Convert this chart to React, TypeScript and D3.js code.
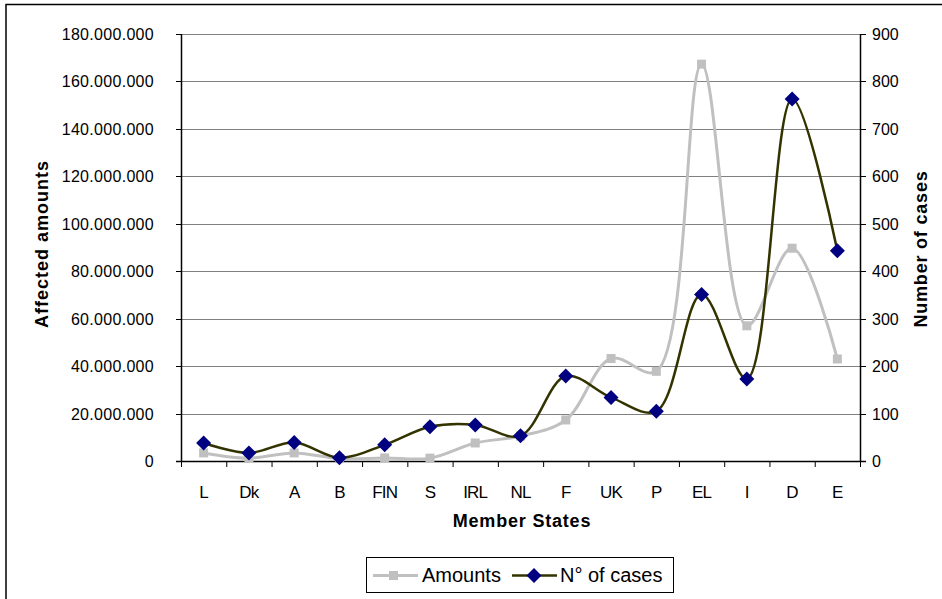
import React from "react";
import * as d3 from "d3";

const categories = ["L", "Dk", "A", "B", "FIN", "S", "IRL", "NL", "F", "UK", "P", "EL", "I", "D", "E"];
const amounts = [3.4e6, 1.2e6, 3.4e6, 1.0e6, 1.3e6, 1.2e6, 7.6e6, 10.5e6, 17.3e6, 43.2e6, 37.8e6, 167.3e6, 57.0e6, 89.7e6, 43.0e6];
const cases = [38, 17, 39, 7, 34, 72, 76, 53, 179, 134, 105, 351, 173, 763, 443];
const leftTicks = [0, 20e6, 40e6, 60e6, 80e6, 100e6, 120e6, 140e6, 160e6, 180e6];
const rightTicks = [0, 100, 200, 300, 400, 500, 600, 700, 800, 900];

const W = 942, H = 599;
const L = 181, R = 860, T = 34, B = 461;
const FONT = "Liberation Sans, Arial, sans-serif";

export default function App() {
  const x = d3.scaleBand<string>().domain(categories).range([L, R]);
  const yL = d3.scaleLinear().domain([0, 180e6]).range([B, T]);
  const yR = d3.scaleLinear().domain([0, 900]).range([B, T]);
  const cx = (c: string) => (x(c) as number) + x.bandwidth() / 2;
  const fmt = (v: number) => (v === 0 ? "0" : d3.format(",")(v).replace(/,/g, "."));

  const lineA = d3.line<number>().x((_, i) => cx(categories[i])).y((d) => yL(d)).curve(d3.curveCatmullRom.alpha(0.5));
  const lineC = d3.line<number>().x((_, i) => cx(categories[i])).y((d) => yR(d)).curve(d3.curveCatmullRom.alpha(0.5));

  const diamond = (px: number, py: number, r: number) =>
    `M${px},${py - r}L${px + r},${py}L${px},${py + r}L${px - r},${py}Z`;

  const boundaries = d3.range(categories.length + 1).map((i) => L + i * x.bandwidth());

  return (
    <svg width={W} height={H} style={{ position: "absolute", left: 0, top: 0 }} fontFamily={FONT}>
      <rect x={0} y={0} width={W} height={H} fill="#fff" />
      <path d={`M6,${H + 2}V4.5H${W + 2}`} fill="none" stroke="#000" strokeWidth={1.5} />
      {/* gridlines */}
      {leftTicks.map((t) => (
        <line key={t} x1={L} x2={R} y1={Math.round(yL(t)) + 0.5} y2={Math.round(yL(t)) + 0.5} stroke="#808080" strokeWidth={1} />
      ))}
      <line x1={L} x2={R} y1={T + 0.5} y2={T + 0.5} stroke="#808080" />
      {/* left axis */}
      <line x1={L + 0.5} x2={L + 0.5} y1={T} y2={B + 1} stroke="#000" strokeWidth={1.5} />
      {leftTicks.map((t) => (
        <g key={t}>
          <line x1={L - 5} x2={L} y1={Math.round(yL(t)) + 0.5} y2={Math.round(yL(t)) + 0.5} stroke="#000" />
          <text x={154} y={yL(t) + 6} textAnchor="end" fontSize={16} letterSpacing={0.3}>{fmt(t)}</text>
        </g>
      ))}
      {/* right axis */}
      <line x1={R + 0.5} x2={R + 0.5} y1={T} y2={B + 1} stroke="#000" strokeWidth={1.5} />
      {rightTicks.map((t) => (
        <g key={t}>
          <line x1={R} x2={R + 6} y1={Math.round(yR(t)) + 0.5} y2={Math.round(yR(t)) + 0.5} stroke="#000" />
          <text x={872} y={yR(t) + 6} textAnchor="start" fontSize={16}>{t}</text>
        </g>
      ))}
      {/* x axis */}
      <line x1={L - 5} x2={R + 6} y1={B + 0.5} y2={B + 0.5} stroke="#000" strokeWidth={1.5} />
      {boundaries.map((b, i) => (
        <line key={i} x1={b + 0.5} x2={b + 0.5} y1={B} y2={B + 6} stroke="#000" />
      ))}
      {categories.map((c) => (
        <text key={c} x={cx(c)} y={498} textAnchor="middle" fontSize={17} letterSpacing={-0.8}>{c}</text>
      ))}
      {/* axis titles */}
      <text x={522} y={527} textAnchor="middle" fontSize={18} fontWeight="bold" letterSpacing={0.8}>Member States</text>
      <text transform="translate(48,244) rotate(-90)" textAnchor="middle" fontSize={18} fontWeight="bold" letterSpacing={1}>Affected amounts</text>
      <text transform="translate(927,249) rotate(-90)" textAnchor="middle" fontSize={18} fontWeight="bold" letterSpacing={0.8}>Number of cases</text>
      {/* series */}
      <path d={lineA(amounts) || ""} fill="none" stroke="#c0c0c0" strokeWidth={3} />
      {amounts.map((v, i) => (
        <rect key={i} x={cx(categories[i]) - 4.5} y={yL(v) - 4.5} width={9} height={9} fill="#c0c0c0" />
      ))}
      <path d={lineC(cases) || ""} fill="none" stroke="#333300" strokeWidth={2.5} />
      {cases.map((v, i) => (
        <path key={i} d={diamond(cx(categories[i]), yR(v), 7.5)} fill="#000080" />
      ))}
      {/* legend */}
      <rect x={366.5} y={557.5} width={307} height={35} fill="#fff" stroke="#000" />
      <line x1={373} x2={418} y1={575.5} y2={575.5} stroke="#c0c0c0" strokeWidth={3} />
      <rect x={389} y={571} width={9} height={9} fill="#c0c0c0" />
      <text x={422} y={582} fontSize={20}>Amounts</text>
      <line x1={512} x2={557} y1={575.5} y2={575.5} stroke="#333300" strokeWidth={2.5} />
      <path d={diamond(534, 575.5, 7.5)} fill="#000080" />
      <text x={560} y={582} fontSize={20}>N° of cases</text>
    </svg>
  );
}
